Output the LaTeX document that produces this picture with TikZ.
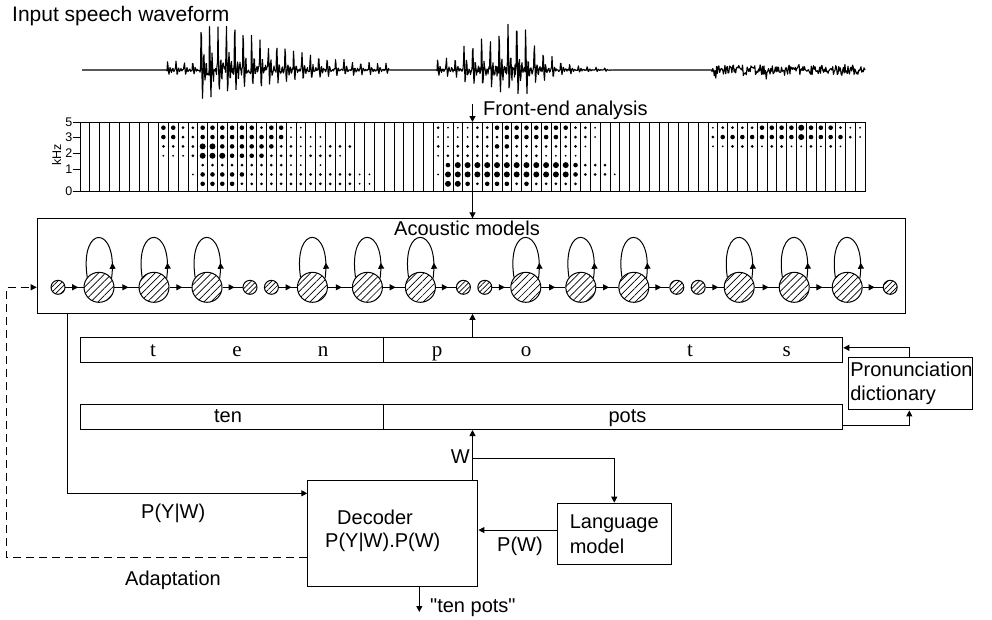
\documentclass[tikz,border=0pt]{standalone}
\usepackage{fontspec}
\setmainfont{Liberation Sans}
\newfontfamily\phonefont{Liberation Serif}
\newfontfamily\quotefont{Liberation Sans}
\usetikzlibrary{arrows.meta,patterns.meta,decorations.markings,calc}
\tikzset{
  box/.style={draw, line width=1.1pt, inner sep=0pt, anchor=north west},
  lbl/.style={font=\fontsize{20}{24.4}\selectfont, inner sep=0pt},
  axl/.style={font=\fontsize{12.5}{15}\selectfont, inner sep=0pt},
  phn/.style={font=\phonefont\fontsize{21}{24}\selectfont, inner sep=0pt, anchor=base},
  arr/.style={line width=1pt, -{Triangle[length=6pt,width=6pt]}},
  adaptarr/.style={line width=1pt, dash pattern=on 8pt off 5pt, -{Triangle[length=6pt,width=6pt]}},
  bigst/.style={circle, draw, line width=1pt, minimum size=30pt, inner sep=0pt,
    pattern={Lines[angle=45,distance=5pt,line width=0.7pt]}},
  smallst/.style={circle, draw, line width=1pt, minimum size=14pt, inner sep=0pt,
    pattern={Lines[angle=45,distance=3.6pt,line width=0.7pt]}},
  hmmarr/.style={line width=1pt, decoration={markings, mark=at position #1 with {\arrow{Triangle[length=6pt,width=6pt]}}}, postaction={decorate}},
  wave/.style={line width=1.1pt, line join=round},
}
\begin{document}
\begin{tikzpicture}[x=1pt,y=-1pt,
  declare function={
    pls(\u)=exp(-\u/2.2)*sin(\u*140);
    envA(\u)=(\u<200)*7 + (\u>=200)*(\u<235)*37 + (\u>=235)*(35*exp(-(\u-235)/65)+2);
    envB(\u)=(\u<462)*10 + (\u>=462)*(\u<520)*(18+(\u-462)*0.41) + (\u>=520)*(42*exp(-(\u-520)/22)+1);
  }]
\useasboundingbox (0,0) rectangle (992,619);

% title
\node[lbl, font=\fontsize{21}{24}\selectfont, anchor=base west] (title) at (12,21) {Input speech waveform};

% waveform
\pgfmathsetseed{4711}
\draw[wave] (82,70) -- (167,70)
  -- plot[domain=167:389, samples=445] (\x,{70-envA(\x)*(1.5*pls(mod(\x-167,8.4))+0.15*rand)})
  -- (390,70) -- (437,70)
  -- plot[domain=437:612, samples=351] (\x,{70-envB(\x)*(1.5*pls(mod(\x-437,8.8))+0.15*rand)})
  -- (613,70) -- (712,70)
  -- plot[domain=712:864, samples=200] (\x,{70-(5*rand+10*rand*rand*rand*rand)})
  -- (865,70);

% front-end analysis
\coordinate (fe) at (472.5,104);
\node[lbl, anchor=base west] (fetxt) at (483,115) {Front-end analysis};

% spectrogram
\node[box, line width=1pt, minimum width=785pt, minimum height=69pt] (spec) at (80,122) {};
\foreach \i in {1,...,79} \draw[line width=0.7pt] ({80+\i*9.8125},122) -- ({80+\i*9.8125},191);
\foreach \c/\code in {
  9/{3,3,2,1,0,0,0}, 10/{3,3,2,1,0,0,0}, 11/{2,2,2,1,0,0,0}, 12/{2,2,2,2,0,1,0},
  13/{3,3,4,4,2,3,3}, 14/{3,3,4,4,2,3,3}, 15/{3,3,3,4,2,3,3}, 16/{3,3,3,3,2,3,3},
  17/{3,3,3,3,2,3,2}, 18/{3,3,3,3,2,2,2}, 19/{2,3,3,3,2,2,2}, 20/{3,3,3,2,2,2,2},
  21/{3,3,2,2,2,2,2}, 22/{1,1,2,2,1,2,2}, 23/{1,1,1,1,1,2,2}, 24/{0,1,1,2,0,2,2},
  25/{0,1,1,2,1,2,2}, 26/{0,0,2,2,0,2,2}, 27/{0,0,2,1,0,2,2}, 28/{0,0,2,0,0,2,2},
  29/{0,0,0,0,0,1,1}, 30/{0,0,0,0,0,1,1},
  37/{2,1,2,1,0,1,0}, 38/{1,1,1,2,3,4,4}, 39/{1,1,2,2,4,4,4}, 40/{1,1,2,2,4,4,3},
  41/{2,2,2,2,4,4,2}, 42/{2,2,2,2,4,4,3}, 43/{3,2,3,2,4,4,3}, 44/{3,3,3,2,4,4,3},
  45/{3,3,2,2,4,4,2}, 46/{3,3,2,2,4,4,3}, 47/{3,3,2,2,4,4,2}, 48/{3,3,2,1,4,4,2},
  49/{3,3,2,1,4,4,2}, 50/{3,2,2,1,4,4,2}, 51/{2,2,2,1,3,3,2}, 52/{2,2,1,0,2,2,0},
  53/{1,1,0,0,2,2,0}, 54/{0,0,0,0,2,2,0}, 55/{0,0,0,0,0,1,0},
  65/{1,2,1,0,0,0,0}, 66/{2,3,1,0,0,0,0}, 67/{2,3,2,0,0,0,0}, 68/{2,3,2,0,0,0,0},
  69/{2,3,2,0,0,0,0}, 70/{3,3,1,0,0,0,0}, 71/{3,3,2,0,0,0,0}, 72/{3,3,2,0,0,0,0},
  73/{3,3,1,0,0,0,0}, 74/{4,4,1,0,0,0,0}, 75/{3,3,2,0,0,0,0}, 76/{3,3,1,0,0,0,0},
  77/{3,3,2,0,0,0,0}, 78/{2,3,1,0,0,0,0}, 79/{1,2,0,0,0,0,0}, 80/{1,1,0,0,0,0,0}}{
  \foreach \d [count=\r] in \code {
    \ifnum\d>0
      \pgfmathsetmacro\rr{{0,1.0,1.5,2.3,3.0}[\d]}
      \fill ({80+(\c-0.5)*9.8125},{127.7+(\r-1)*9.35}) circle (\rr);
    \fi
  }
}
% axis
\foreach \v/\yy in {5/122,3/137,2/153,1/169,0/191}{
  \draw[line width=0.8pt] (72.5,\yy) -- (80,\yy);
  \node[axl, anchor=east] (ax\v) at (72.5,\yy) {\v};
}
\node[axl, rotate=90] (khz) at (56.5,155) {kHz};

% acoustic models
\node[box, minimum width=868.3pt, minimum height=94.4pt] (am) at (36.7,218.3) {};
\node[lbl, anchor=base] (amtxt) at (467,235) {Acoustic models};
\foreach \m in {0,...,3}{
  \pgfmathsetmacro\bx{58+\m*213.4}
  \node[smallst] (hs\m) at (\bx,287.3) {};
  \node[bigst] (ha\m) at (\bx+41,287.3) {};
  \node[bigst] (hb\m) at (\bx+96,287.3) {};
  \node[bigst] (hc\m) at (\bx+149,287.3) {};
  \node[smallst] (he\m) at (\bx+192,287.3) {};
  \draw[hmmarr=0.7] (hs\m) -- (ha\m);
  \draw[hmmarr=0.58] (ha\m) -- (hb\m);
  \draw[hmmarr=0.58] (hb\m) -- (hc\m);
  \draw[hmmarr=0.6] (hc\m) -- (he\m);
  \foreach \nn in {ha,hb,hc}{
    \draw[hmmarr=0.17] (\nn\m.35) .. controls +(7,-54) and +(-8,-54) .. (\nn\m.140);
  }
}

% phone row
\node[box, line width=1pt, minimum width=762.3pt, minimum height=25.6pt] (ph) at (80,336.7) {};
\draw[line width=1pt] (383.3,336.7) -- (383.3,362.3);
\foreach \ch/\xx [count=\k] in {t/153,e/237,n/323,p/437,o/526,t/690,s/786.7}
  \node[phn] (phl\k) at (\xx,356) {\ch};

% word row
\node[box, line width=1pt, minimum width=762.3pt, minimum height=25pt] (wd) at (80,404) {};
\draw[line width=1pt] (383.3,404) -- (383.3,429);
\node[lbl, anchor=base] (wten) at (228,422.7) {ten};
\node[lbl, anchor=base] (wpots) at (627.5,422.7) {pots};

% pronunciation dictionary
\node[box, minimum width=124pt, minimum height=52.6pt, align=left, text width=120pt, inner xsep=2pt,
  font=\fontsize{20}{24.4}\selectfont] (pd) at (847.7,356.7) {Pronunciation\\dictionary};
\coordinate (dx) at (909.3,0);

% decoder and language model
\node[box, minimum width=170pt, minimum height=105.7pt] (dec) at (307.3,480) {};
\node[lbl, anchor=base west] (dect) at (337,524) {Decoder};
\node[lbl, anchor=base west] (decp) at (325,547.7) {P(Y|W).P(W)};
\node[box, minimum width=114pt, minimum height=61.6pt, align=left,
  font=\fontsize{20}{25.3}\selectfont] (lm) at (556.7,502.7) {Language\\model};

% connectors
\draw[arr] (fe) -- (fe |- spec.north);
\draw[arr] (spec.south -| fe) -- (am.north -| fe);
\draw[arr] (ph.north -| fe) -- (am.south -| fe);
\draw[arr] (pd.north -| dx) |- ([yshift=2.2pt]ph.east);
\draw[arr] ([yshift=-8.5pt]wd.east) -| (pd.south -| dx);
\draw[arr] (dec.north -| fe) -- (wd.south -| fe);
\coordinate (wb) at (472.5,458);
\node[lbl, anchor=base west] (wlbl) at (450.7,463.3) {W};
\draw[arr] (wb) -| (lm.north);
\draw[arr] ([yshift=4pt]lm.west) -- ([yshift=4pt]lm.west -| dec.east);
\node[lbl, anchor=base west] (pw) at (497,551) {P(W)};
\coordinate (pyw) at (67.7,493.3);
\draw[arr] (am.south -| pyw) -- (pyw) -- (pyw -| dec.west);
\node[lbl, anchor=base west] (pywl) at (141,518.3) {P(Y|W)};
\coordinate (adl) at (6.7,557.7);
\draw[adaptarr] (adl -| dec.west) -- (adl) -- (adl |- hs0) -- (am.west |- hs0);
\node[lbl, anchor=base west] (adapt) at (125,585.7) {Adaptation};
\coordinate (outend) at (419.3,612);
\draw[arr] (dec.south -| outend) -- (outend);
\node[lbl, font=\quotefont\fontsize{20}{24.4}\selectfont, anchor=base west] (outl) at (430,612.7) {"ten pots"};
\end{tikzpicture}
\end{document}
